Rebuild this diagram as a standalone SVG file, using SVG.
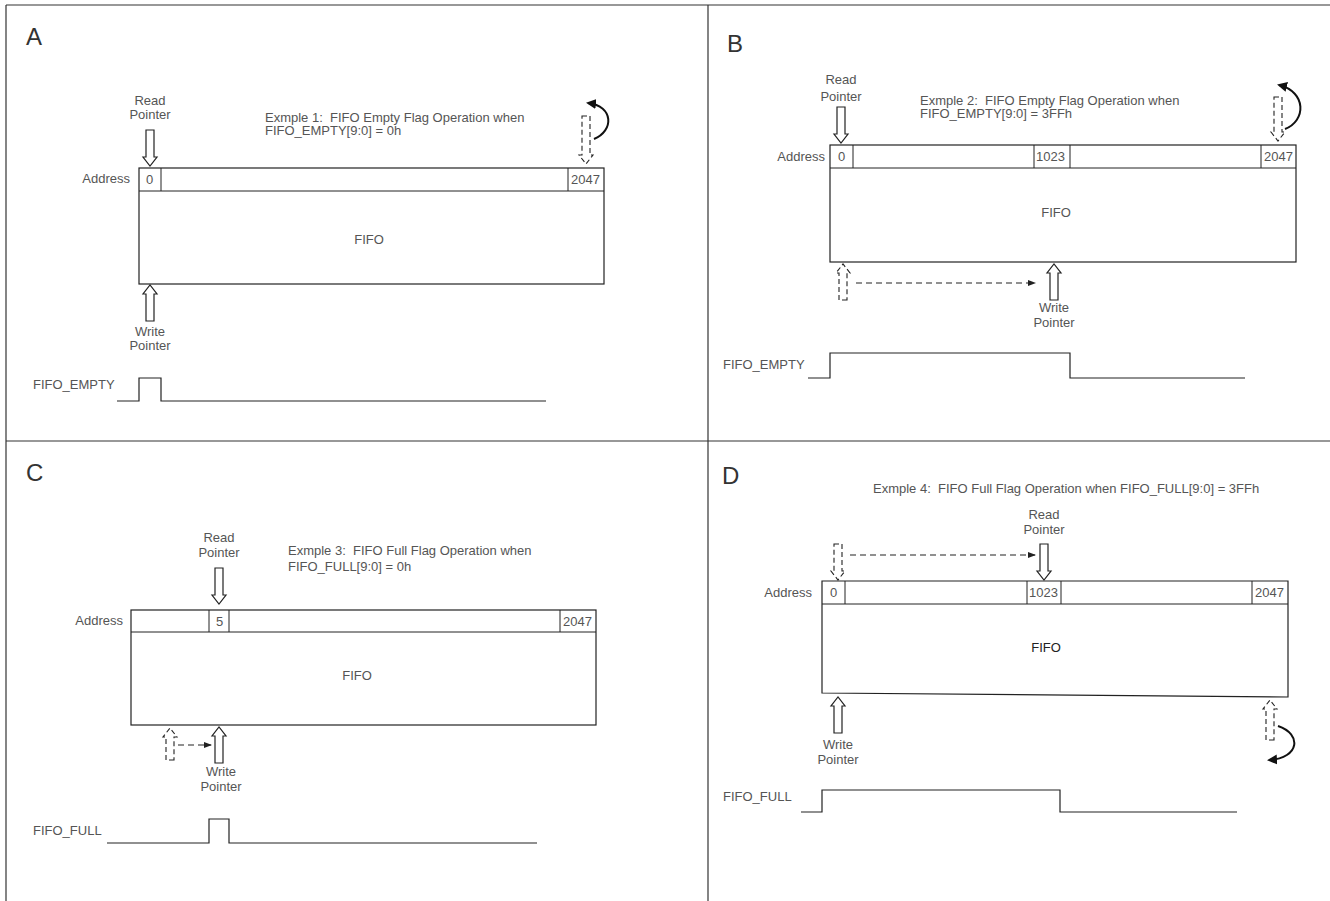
<svg xmlns="http://www.w3.org/2000/svg" width="1330" height="901" viewBox="0 0 1330 901">
<style>
text{font-family:"Liberation Sans",Arial,sans-serif;fill:#555;font-size:13px;white-space:pre}
.big{font-size:24px;fill:#333}
.mid{text-anchor:middle}
.end{text-anchor:end}
.box{fill:#fff;stroke:#222;stroke-width:1.2}
.cell{fill:none;stroke:#222;stroke-width:1}
.frame{stroke:#333;stroke-width:1.2;fill:none}
.wave{fill:none;stroke:#222;stroke-width:1.2}
.ptr{fill:#fff;stroke:#222;stroke-width:1.2}
.dptr{fill:#fff;stroke:#222;stroke-width:1.1;stroke-dasharray:5,3}
.dline{fill:none;stroke:#222;stroke-width:1.1;stroke-dasharray:6,4}
.curve{fill:none;stroke:#111;stroke-width:2}
</style>
<defs>
<path id="arr36" d="M-4,-36 H4 V-9 H7 L0,0 L-7,-9 H-4 Z"/>
<path id="arr48" d="M-4,-48 H4 V-9 H7 L0,0 L-7,-9 H-4 Z"/>
<path id="arr44" d="M-4,-44 H4 V-9 H7 L0,0 L-7,-9 H-4 Z"/>
<path id="arr40" d="M-4,-40 H4 V-9 H7 L0,0 L-7,-9 H-4 Z"/>
<path id="arr32" d="M-4,-32 H4 V-9 H7 L0,0 L-7,-9 H-4 Z"/>
<marker id="sm" markerWidth="8" markerHeight="8" refX="7" refY="4" orient="auto" markerUnits="userSpaceOnUse">
<path d="M0,1 L8,4 L0,7 Z" fill="#222"/>
</marker>
<marker id="cv" markerWidth="10" markerHeight="10" refX="8" refY="5" orient="auto" markerUnits="userSpaceOnUse">
<path d="M0,0 L10,5 L0,10 Z" fill="#111"/>
</marker>
</defs>

<g id="frame">
<line class="frame" x1="6" y1="5" x2="1330" y2="5"/>
<line class="frame" x1="6" y1="5" x2="6" y2="901"/>
<line class="frame" x1="708" y1="5" x2="708" y2="901"/>
<line class="frame" x1="6" y1="441" x2="1330" y2="441"/>
</g>

<!-- Panel A -->
<g id="panelA">
<text class="big" x="26" y="45">A</text>
<text class="mid" x="150" y="105">Read</text>
<text class="mid" x="150" y="119">Pointer</text>
<text x="265" y="122">Exmple 1:  FIFO Empty Flag Operation when</text>
<text x="265" y="135">FIFO_EMPTY[9:0] = 0h</text>
<text class="end" x="130" y="183">Address</text>
<g id="fifoA">
<rect class="box" x="139" y="168" width="465" height="116"/>
<line class="cell" x1="139" y1="191" x2="604" y2="191"/>
<line class="cell" x1="161" y1="168" x2="161" y2="191"/>
<line class="cell" x1="568" y1="168" x2="568" y2="191"/>
<text x="146" y="184">0</text>
<text x="571" y="184">2047</text>
<text class="mid" x="369" y="244">FIFO</text>
</g>
<text class="mid" x="150" y="336">Write</text>
<text class="mid" x="150" y="350">Pointer</text>
<text x="33" y="389">FIFO_EMPTY</text>
</g>

<!-- Panel B -->
<g id="panelB">
<text class="big" x="727" y="52">B</text>
<text class="mid" x="841" y="84">Read</text>
<text class="mid" x="841" y="101">Pointer</text>
<text x="920" y="105">Exmple 2:  FIFO Empty Flag Operation when</text>
<text x="920" y="118">FIFO_EMPTY[9:0] = 3FFh</text>
<text class="end" x="825" y="161">Address</text>
<g id="fifoB">
<rect class="box" x="830" y="145" width="466" height="117"/>
<line class="cell" x1="830" y1="168" x2="1296" y2="168"/>
<line class="cell" x1="853" y1="145" x2="853" y2="168"/>
<line class="cell" x1="1034" y1="145" x2="1034" y2="168"/>
<line class="cell" x1="1070" y1="145" x2="1070" y2="168"/>
<line class="cell" x1="1261" y1="145" x2="1261" y2="168"/>
<text x="838" y="161">0</text>
<text x="1036" y="161">1023</text>
<text x="1264" y="161">2047</text>
<text class="mid" x="1056" y="217">FIFO</text>
</g>
<text class="mid" x="1054" y="312">Write</text>
<text class="mid" x="1054" y="327">Pointer</text>
<text x="723" y="369">FIFO_EMPTY</text>
</g>

<!-- Panel C -->
<g id="panelC">
<text class="big" x="26" y="481">C</text>
<text class="mid" x="219" y="542">Read</text>
<text class="mid" x="219" y="557">Pointer</text>
<text x="288" y="555">Exmple 3:  FIFO Full Flag Operation when</text>
<text x="288" y="571">FIFO_FULL[9:0] = 0h</text>
<text class="end" x="123" y="625">Address</text>
<g id="fifoC">
<rect class="box" x="131" y="610" width="465" height="115"/>
<line class="cell" x1="131" y1="632" x2="596" y2="632"/>
<line class="cell" x1="209" y1="610" x2="209" y2="632"/>
<line class="cell" x1="229" y1="610" x2="229" y2="632"/>
<line class="cell" x1="560" y1="610" x2="560" y2="632"/>
<text x="216" y="626">5</text>
<text x="563" y="626">2047</text>
<text class="mid" x="357" y="680">FIFO</text>
</g>
<text class="mid" x="221" y="776">Write</text>
<text class="mid" x="221" y="791">Pointer</text>
<text x="33" y="835">FIFO_FULL</text>
</g>

<!-- Panel D -->
<g id="panelD">
<text class="big" x="722" y="484">D</text>
<text x="873" y="493">Exmple 4:  FIFO Full Flag Operation when FIFO_FULL[9:0] = 3FFh</text>
<text class="mid" x="1044" y="519">Read</text>
<text class="mid" x="1044" y="534">Pointer</text>
<text class="end" x="812" y="597">Address</text>
<g id="fifoD">
<path class="box" d="M822,581 H1288 V697 L822,693 Z"/>
<line class="cell" x1="822" y1="604" x2="1288" y2="604"/>
<line class="cell" x1="845" y1="581" x2="845" y2="604"/>
<line class="cell" x1="1027" y1="581" x2="1027" y2="604"/>
<line class="cell" x1="1061" y1="581" x2="1061" y2="604"/>
<line class="cell" x1="1252" y1="581" x2="1252" y2="604"/>
<text x="830" y="597">0</text>
<text x="1029" y="597">1023</text>
<text x="1255" y="597">2047</text>
<text class="mid" x="1046" y="652" style="fill:#222">FIFO</text>
</g>
<text class="mid" x="838" y="749">Write</text>
<text class="mid" x="838" y="764">Pointer</text>
<text x="723" y="801">FIFO_FULL</text>
</g>

<g id="connectors">
<!-- A -->
<use href="#arr36" class="ptr" transform="translate(150,166)"/>
<use href="#arr36" class="ptr" transform="translate(150,285) rotate(180)"/>
<use href="#arr48" class="dptr" transform="translate(586,164)"/>
<path class="curve" d="M594,139 C614,131 614,106 588,103" marker-end="url(#cv)"/>
<polyline class="wave" points="117,401 139,401 139,378 161,378 161,401 546,401"/>
<!-- B -->
<use href="#arr36" class="ptr" transform="translate(841,143)"/>
<use href="#arr44" class="dptr" transform="translate(1278,141)"/>
<path class="curve" d="M1285,129 C1306,121 1307,92 1279,85" marker-end="url(#cv)"/>
<use href="#arr36" class="dptr" transform="translate(843,264) rotate(180)"/>
<path class="dline" d="M856,283 H1035" marker-end="url(#sm)"/>
<use href="#arr36" class="ptr" transform="translate(1054,264) rotate(180)"/>
<polyline class="wave" points="808,378 830,378 830,353 1070,353 1070,378 1245,378"/>
<!-- C -->
<use href="#arr36" class="ptr" transform="translate(219,604)"/>
<use href="#arr32" class="dptr" transform="translate(170,728) rotate(180)"/>
<path class="dline" d="M178,745 H211" marker-end="url(#sm)"/>
<use href="#arr36" class="ptr" transform="translate(219,727) rotate(180)"/>
<polyline class="wave" points="107,843 209,843 209,819 229,819 229,843 537,843"/>
<!-- D -->
<use href="#arr36" class="ptr" transform="translate(1044,580)"/>
<use href="#arr36" class="dptr" transform="translate(838,580)"/>
<path class="dline" d="M850,555 H1035" marker-end="url(#sm)"/>
<use href="#arr36" class="ptr" transform="translate(838,697) rotate(180)"/>
<use href="#arr40" class="dptr" transform="translate(1270,700) rotate(180)"/>
<path class="curve" d="M1278,726 C1302,734 1300,758 1269,760" marker-end="url(#cv)"/>
<polyline class="wave" points="801,812 822,812 822,790 1060,790 1060,812 1237,812"/>
</g>
</svg>
